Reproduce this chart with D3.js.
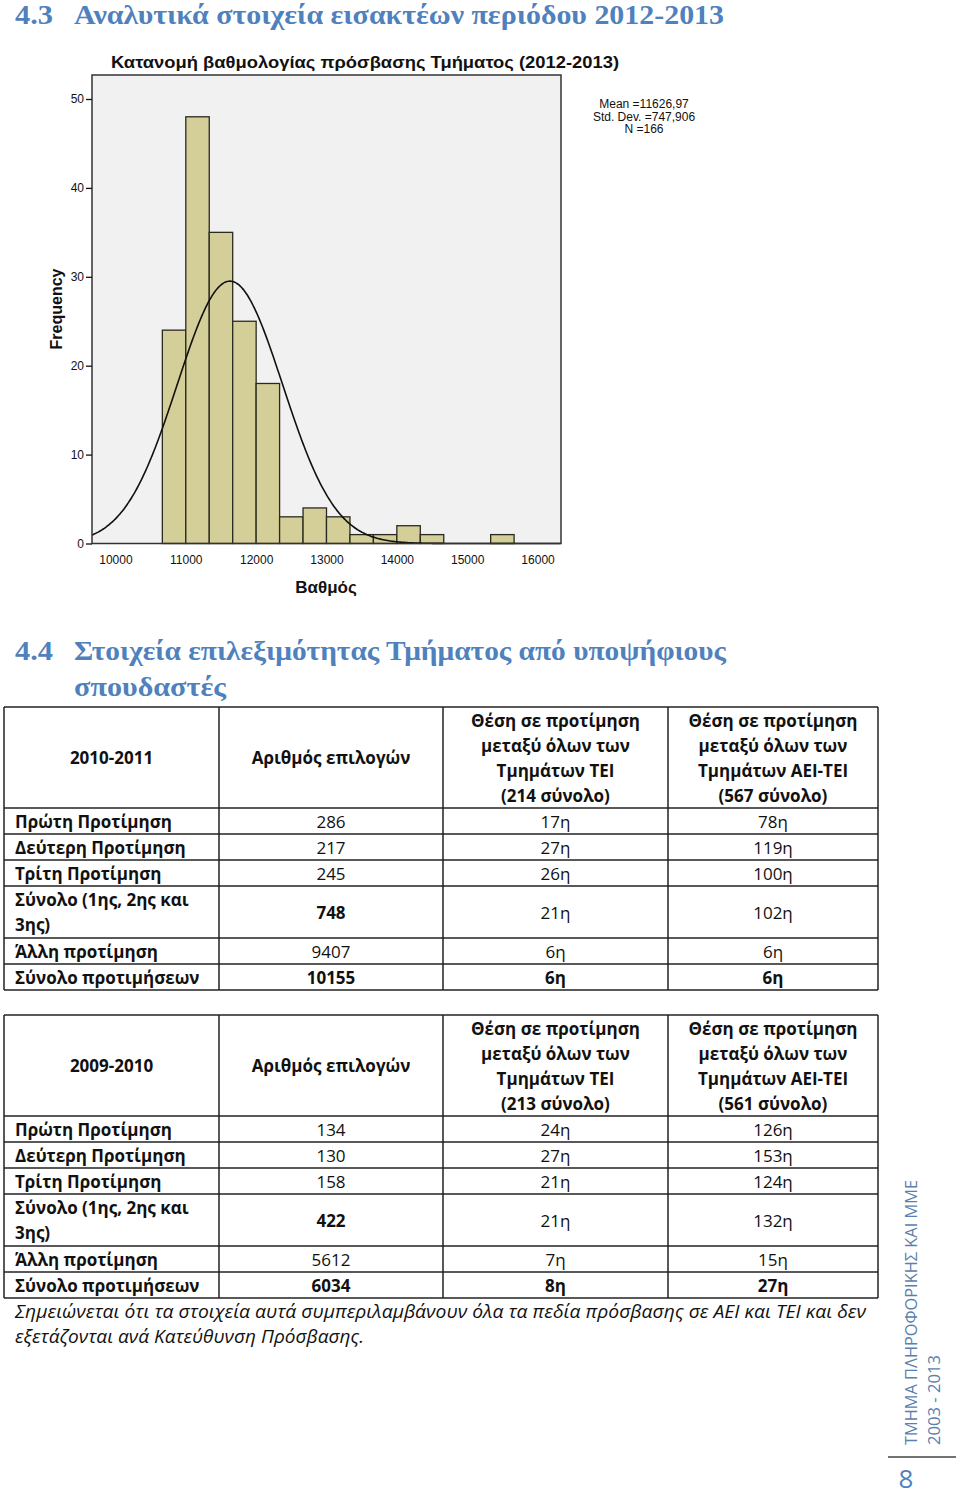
<!DOCTYPE html>
<html><head><meta charset="utf-8">
<script src="https://cdn.jsdelivr.net/npm/d3@7"></script>
<style>body{margin:0;background:#fff}svg{display:block}</style>
</head><body>
<script>
// ---------- DATA ----------
const binStarts = [10666.67, 11000, 11333.33, 11666.67, 12000, 12333.33, 12666.67, 13000, 13333.33, 13666.67, 14000, 14333.33, 14666.67, 15000, 15333.33];
const binWidth = 333.33;
const binCounts = [24, 48, 35, 25, 18, 3, 4, 3, 1, 1, 2, 1, 0, 0, 1];
const xTicks = [10000, 11000, 12000, 13000, 14000, 15000, 16000];
const yTicks = [0, 10, 20, 30, 40, 50];
const statMean = 11626.97, statSD = 747.906, statN = 166;
const statLabels = ["Mean =11626,97", "Std. Dev. =747,906", "N =166"];

const rowLabels = ["Πρώτη Προτίμηση", "Δεύτερη Προτίμηση", "Τρίτη Προτίμηση", "Σύνολο (1ης, 2ης και|3ης)", "Άλλη προτίμηση", "Σύνολο προτιμήσεων"];
const t1Header = ["2010-2011", "Αριθμός επιλογών", "Θέση σε προτίμηση|μεταξύ όλων των|Τμημάτων ΤΕΙ|(214 σύνολο)", "Θέση σε προτίμηση|μεταξύ όλων των|Τμημάτων ΑΕΙ-ΤΕΙ|(567 σύνολο)"];
const t1Counts = ["286", "217", "245", "748", "9407", "10155"];
const t1TEI = ["17η", "27η", "26η", "21η", "6η", "6η"];
const t1AEI = ["78η", "119η", "100η", "102η", "6η", "6η"];
const t2Header = ["2009-2010", "Αριθμός επιλογών", "Θέση σε προτίμηση|μεταξύ όλων των|Τμημάτων ΤΕΙ|(213 σύνολο)", "Θέση σε προτίμηση|μεταξύ όλων των|Τμημάτων ΑΕΙ-ΤΕΙ|(561 σύνολο)"];
const t2Counts = ["134", "130", "158", "422", "5612", "6034"];
const t2TEI = ["24η", "27η", "21η", "21η", "7η", "8η"];
const t2AEI = ["126η", "153η", "124η", "132η", "15η", "27η"];

// ---------- DRAW ----------
const W = 960, H = 1496;
const svg = d3.select("body").append("svg").attr("width", W).attr("height", H);
svg.append("rect").attr("width", W).attr("height", H).attr("fill", "#fff");

const blue = "#4f81bd";
const headFont = "'Liberation Serif', 'DejaVu Serif', serif";
const arial = "'Liberation Sans', Arial, sans-serif";
const tabFont = "'Open Sans', 'Noto Sans', sans-serif";

function heading(x, y, txt, len) {
  svg.append("text").attr("x", x).attr("y", y).attr("font-family", headFont).attr("font-weight", "bold")
    .attr("font-size", 27).attr("fill", blue).attr("textLength", len).attr("lengthAdjust", "spacingAndGlyphs").text(txt);
}
heading(15, 24, "4.3", 38);
heading(74, 24, "Αναλυτικά στοιχεία εισακτέων περιόδου 2012-2013", 650);
heading(15, 660, "4.4", 38);
heading(74, 660, "Στοιχεία επιλεξιμότητας Τμήματος από υποψήφιους", 652);
heading(74, 696, "σπουδαστές", 152);

// Histogram
const pl = 92, pr = 561, pt = 75, pb = 543.5;
const x = d3.scaleLinear().domain([9666.67, 16333.33]).range([pl, pr]);
const y = d3.scaleLinear().domain([0, 50]).range([pb, pb - 5 * 88.9]);

svg.append("text").attr("x", 365).attr("y", 68).attr("text-anchor", "middle").attr("font-family", arial)
  .attr("font-weight", "bold").attr("font-size", 17).attr("fill", "#111")
  .attr("textLength", 508).attr("lengthAdjust", "spacingAndGlyphs")
  .text("Κατανομή βαθμολογίας πρόσβασης Τμήματος (2012-2013)");

svg.append("rect").attr("x", pl).attr("y", pt).attr("width", pr - pl).attr("height", pb - pt).attr("fill", "#f1f1f1");

const g = svg.append("g");
g.selectAll("rect.bar").data(binCounts.map((c, i) => ({c, s: binStarts[i]})).filter(d => d.c > 0))
  .enter().append("rect").attr("class", "bar")
  .attr("x", d => x(d.s)).attr("width", d => x(d.s + binWidth) - x(d.s))
  .attr("y", d => y(d.c)).attr("height", d => y(0) - y(d.c))
  .attr("fill", "#d4cf98").attr("stroke", "#2a2a20").attr("stroke-width", 1.3);

// normal curve from stated mean/sd/N
const scaleK = statN * binWidth / (statSD * Math.sqrt(2 * Math.PI));
const curvePts = d3.range(9666.67, 16333.34, 20).map(v => [v, scaleK * Math.exp(-0.5 * ((v - statMean) / statSD) ** 2)]);
svg.append("path").datum(curvePts).attr("fill", "none").attr("stroke", "#111").attr("stroke-width", 1.6)
  .attr("d", d3.line().x(d => x(d[0])).y(d => y(d[1])).curve(d3.curveBasis));

svg.append("rect").attr("x", pl).attr("y", pt).attr("width", pr - pl).attr("height", pb - pt)
  .attr("fill", "none").attr("stroke", "#333").attr("stroke-width", 1.5);

const yAxis = svg.append("g").attr("transform", `translate(${pl},0)`)
  .call(d3.axisLeft(y).tickValues(yTicks).tickSize(6).tickPadding(2).tickFormat(d3.format("d")));
yAxis.select(".domain").remove();
yAxis.selectAll("text").attr("font-family", arial).attr("font-size", 12).attr("fill", "#111");
yAxis.selectAll("line").attr("stroke", "#111").attr("stroke-width", 1.3);

const xAxis = svg.append("g").attr("transform", `translate(0,${pb})`)
  .call(d3.axisBottom(x).tickValues(xTicks).tickSize(0).tickPadding(12).tickFormat(d3.format("d")));
xAxis.select(".domain").remove();
xAxis.selectAll("text").attr("font-family", arial).attr("font-size", 12).attr("fill", "#111");

svg.append("text").attr("transform", "translate(62,309) rotate(-90)").attr("text-anchor", "middle")
  .attr("font-family", arial).attr("font-weight", "bold").attr("font-size", 16).attr("fill", "#111").text("Frequency");
svg.append("text").attr("x", 326).attr("y", 593).attr("text-anchor", "middle")
  .attr("font-family", arial).attr("font-weight", "bold").attr("font-size", 17).attr("fill", "#111").text("Βαθμός");

svg.append("g").selectAll("text").data(statLabels).enter().append("text")
  .attr("x", 644).attr("y", (d, i) => 108 + i * 12.5).attr("text-anchor", "middle")
  .attr("font-family", arial).attr("font-size", 12).attr("fill", "#111").text(d => d);

// Tables
const colX = [4, 219, 443, 668, 878];
const rowH = [26, 26, 26, 52, 26, 26];
const boldCount = [false, false, false, true, false, true];
const boldRank = [false, false, false, false, false, true];

function drawTable(top, header, counts, tei, aei) {
  const tg = svg.append("g");
  const hh = 101;
  const ys = [top, top + hh];
  rowH.forEach(h => ys.push(ys[ys.length - 1] + h));
  const bottom = ys[ys.length - 1];
  ys.forEach(yy => tg.append("line").attr("x1", colX[0]).attr("x2", colX[4]).attr("y1", yy).attr("y2", yy)
    .attr("stroke", "#222").attr("stroke-width", 1.5));
  colX.forEach(xx => tg.append("line").attr("x1", xx).attr("x2", xx).attr("y1", top).attr("y2", bottom)
    .attr("stroke", "#222").attr("stroke-width", 1.5));
  const fs = 17;
  const txt = (xx, yy, s, bold, anchor) => tg.append("text").attr("x", xx).attr("y", yy)
    .attr("text-anchor", anchor || "middle").attr("font-family", tabFont).attr("font-size", fs)
    .attr("font-weight", bold ? "bold" : "normal").attr("fill", "#111").attr("dominant-baseline", "central").text(s);
  header.forEach((h, ci) => {
    const lines = h.split("|");
    const cx = (colX[ci] + colX[ci + 1]) / 2;
    const cy = top + hh / 2;
    lines.forEach((l, li) => txt(cx, cy + (li - (lines.length - 1) / 2) * 25, l, true));
  });
  rowLabels.forEach((lab, ri) => {
    const cy = (ys[ri + 1] + ys[ri + 2]) / 2;
    const lines = lab.split("|");
    lines.forEach((l, li) => txt(15, cy + (li - (lines.length - 1) / 2) * 25, l, true, "start"));
    txt((colX[1] + colX[2]) / 2, cy, counts[ri], boldCount[ri]);
    txt((colX[2] + colX[3]) / 2, cy, tei[ri], boldRank[ri]);
    txt((colX[3] + colX[4]) / 2, cy, aei[ri], boldRank[ri]);
  });
}
drawTable(707, t1Header, t1Counts, t1TEI, t1AEI);
drawTable(1015, t2Header, t2Counts, t2TEI, t2AEI);

const note = ["Σημειώνεται ότι τα στοιχεία αυτά συμπεριλαμβάνουν όλα τα πεδία πρόσβασης σε ΑΕΙ και ΤΕΙ και δεν", "εξετάζονται ανά Κατεύθυνση Πρόσβασης."];
svg.append("text").attr("x", 15).attr("y", 1318).attr("font-family", tabFont).attr("font-style", "italic")
  .attr("font-size", 17.5).attr("fill", "#111").attr("textLength", 851).attr("lengthAdjust", "spacingAndGlyphs").text(note[0]);
svg.append("text").attr("x", 15).attr("y", 1343).attr("font-family", tabFont).attr("font-style", "italic")
  .attr("font-size", 17.5).attr("fill", "#111").attr("textLength", 349).attr("lengthAdjust", "spacingAndGlyphs").text(note[1]);

// Side footer
svg.append("text").attr("transform", "translate(917,1445) rotate(-90)").attr("font-family", tabFont)
  .attr("font-size", 17).attr("fill", "#5b7fae").attr("textLength", 265).attr("lengthAdjust", "spacingAndGlyphs")
  .text("ΤΜΗΜΑ ΠΛΗΡΟΦΟΡΙΚΗΣ ΚΑΙ ΜΜΕ");
svg.append("text").attr("transform", "translate(940,1445) rotate(-90)").attr("font-family", tabFont)
  .attr("font-size", 17).attr("fill", "#5b7fae").attr("textLength", 90).attr("lengthAdjust", "spacingAndGlyphs")
  .text("2003 - 2013");
svg.append("line").attr("x1", 888).attr("x2", 956).attr("y1", 1457).attr("y2", 1457).attr("stroke", "#444").attr("stroke-width", 1.5);
svg.append("text").attr("x", 906).attr("y", 1478).attr("text-anchor", "middle").attr("font-family", tabFont)
  .attr("font-size", 26).attr("fill", blue).attr("dominant-baseline", "central").text("8");
</script>
</body></html>
